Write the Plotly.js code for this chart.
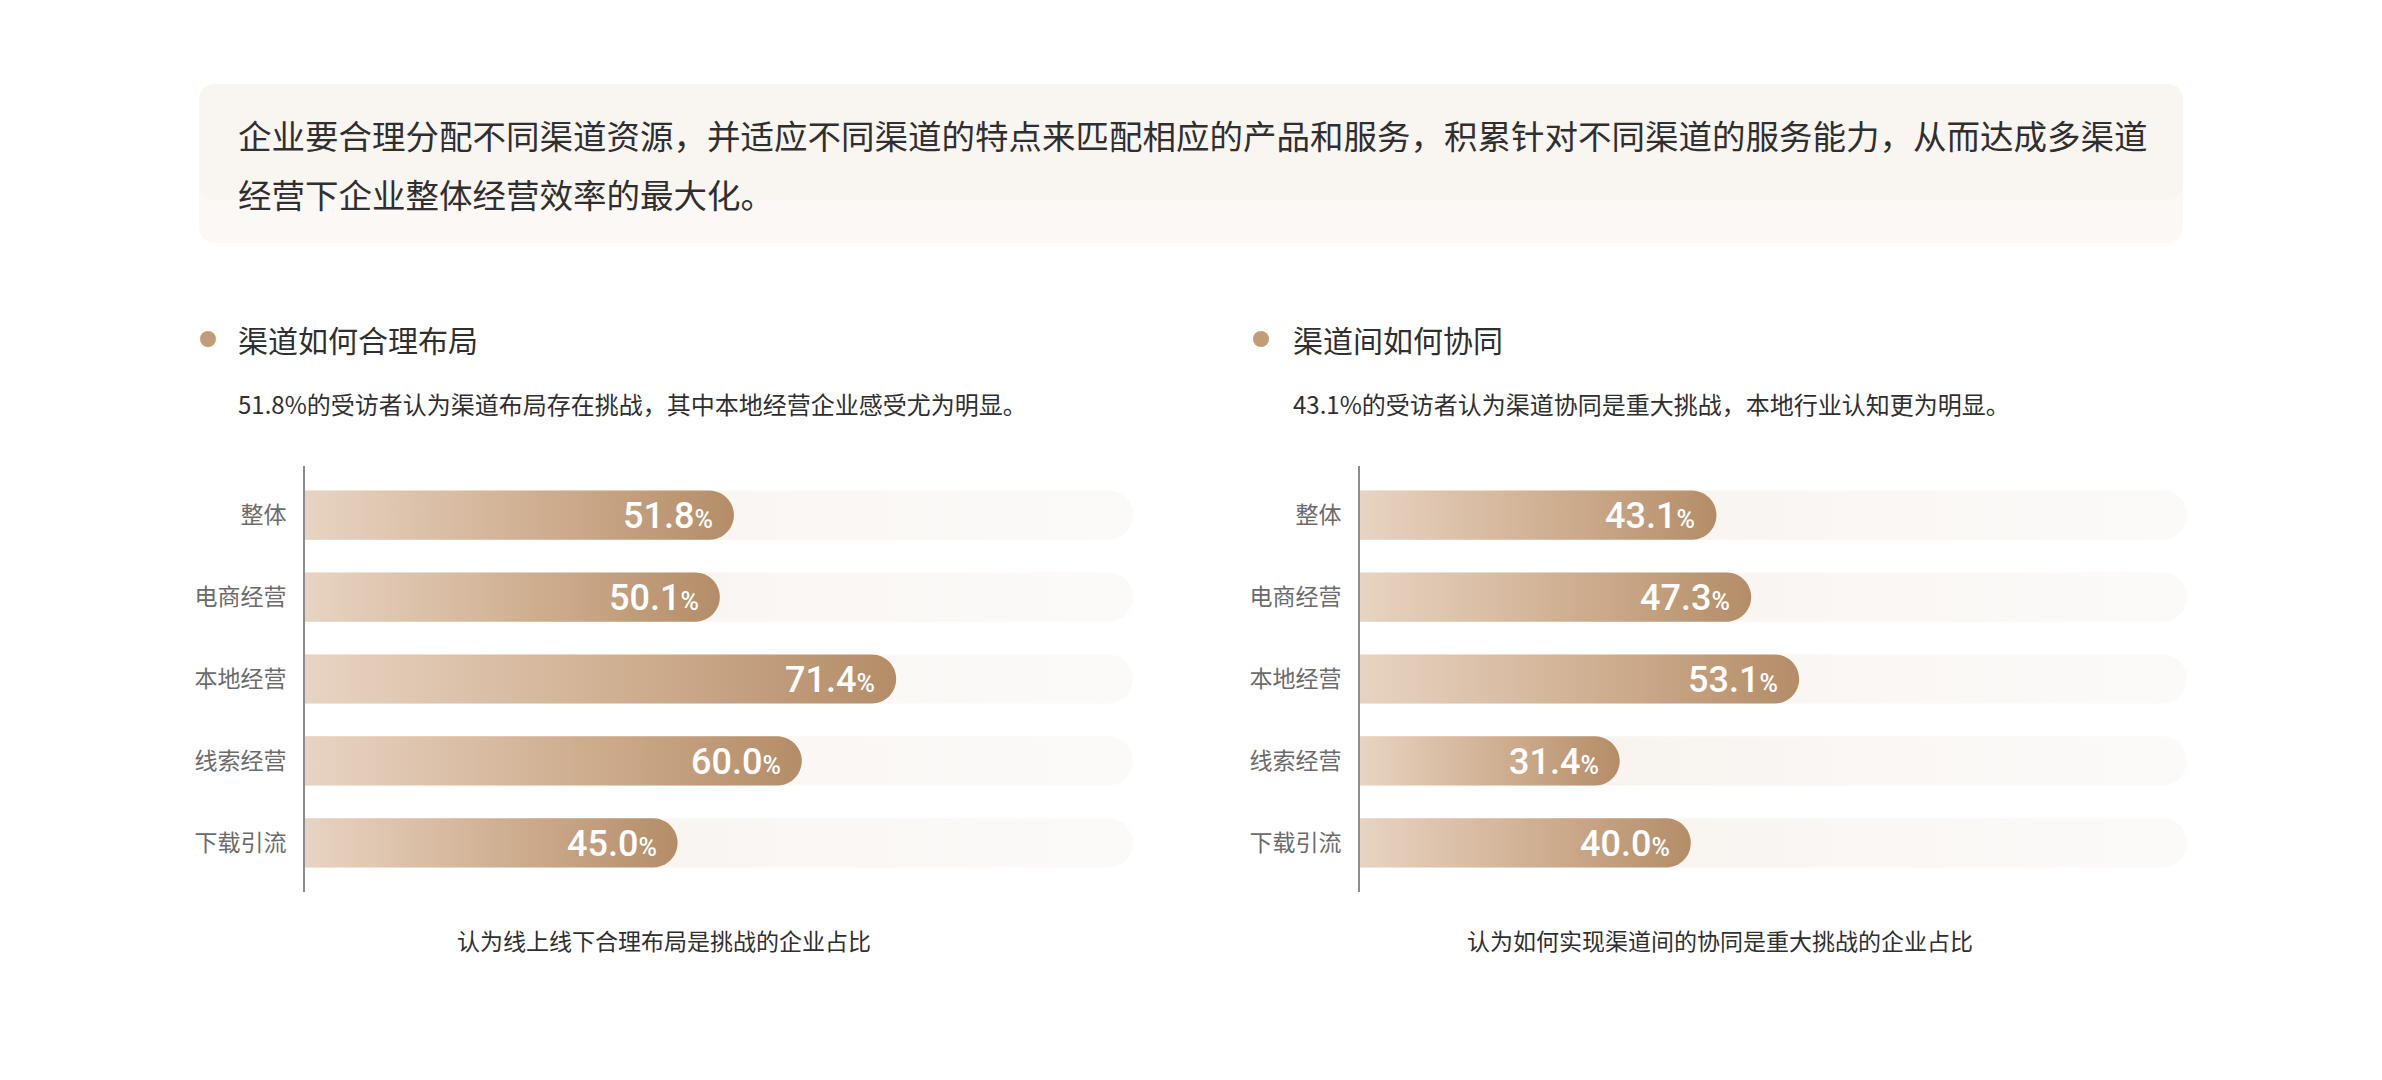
<!DOCTYPE html>
<html>
<head>
<meta charset="utf-8">
<script src="https://cdn.plot.ly/plotly-3.0.1.min.js"></script>
<style>
  html, body { margin: 0; padding: 0; background: #fff; }
  #chart { width: 2382px; height: 1080px; }
</style>
</head>
<body>
<div id="chart"></div>
<script>
// categories (same for both charts)
var categories = ["整体", "电商经营", "本地经营", "线索经营", "下载引流"];

// left chart: 渠道如何合理布局
var layoutValues = [51.8, 50.1, 71.4, 60.0, 45.0];
// right chart: 渠道间如何协同
var synergyValues = [43.1, 47.3, 53.1, 31.4, 40.0];

var W = 2382, H = 1080;
var font = '"Noto Sans CJK SC", "Noto Sans", sans-serif';

// pixel -> paper helpers
var px = function(x) { return x / W; };
var py = function(y) { return 1 - y / H; };

// plot areas in page pixels
var leftBox = { x0: 305, x1: 1133 };
var rightBox = { x0: 1360, x1: 2187 };
var plotTop = 466, plotBottom = 892;
var yRange = [4.6, -0.6];
var halfH = 0.3; // half bar height in category units

/**
 * Build a bar as a closed polygon with a rounded right end,
 * the cap is an ellipse in data units so it looks round on screen
 */
var roundBar = function(v, i, rx) {
	var xs = [0], ys = [i - halfH];
	var cx = v - rx;
	for (var k = 0; k <= 24; k++) {
		var t = -Math.PI / 2 + Math.PI * k / 24;
		xs.push(cx + rx * Math.cos(t));
		ys.push(i + halfH * Math.sin(t));
	}
	xs.push(0);
	ys.push(i + halfH);
	xs.push(0);
	ys.push(i - halfH);
	return { x: xs, y: ys };
}

var makeTraces = function(values, box, xa, ya) {
	var traces = [];
	var pxPerUnit = (box.x1 - box.x0) / 100;
	var pxPerRow = (plotBottom - plotTop) / Math.abs(yRange[0] - yRange[1]);
	var rx = halfH * pxPerRow / pxPerUnit;

	// pale track behind every bar
	for (var i = 0; i < values.length; i++) {
		var bg = roundBar(100, i, rx);
		traces.push({
			x: bg.x, y: bg.y, xaxis: xa, yaxis: ya,
			type: 'scatter', mode: 'none', fill: 'toself',
			fillgradient: {
				type: 'horizontal',
				colorscale: [[0, '#f6f0ea'], [0.6, '#faf7f4'], [1, '#fcfaf9']],
				start: 0, stop: 100
			},
			hoverinfo: 'skip'
		});
	}
	// value bars, gradient from light to dark along the bar
	for (var i = 0; i < values.length; i++) {
		var b = roundBar(values[i], i, rx);
		traces.push({
			x: b.x, y: b.y, xaxis: xa, yaxis: ya,
			type: 'scatter', mode: 'none', fill: 'toself',
			fillgradient: {
				type: 'horizontal',
				colorscale: [[0, '#e8d4c3'], [0.55, '#cfae90'], [1, '#b48d68']],
				start: 0, stop: values[i]
			},
			name: categories[i],
			hovertemplate: categories[i] + ': ' + values[i].toFixed(1) + '%<extra></extra>'
		});
	}
	return traces;
}

var valueLabels = function(values, xr, yr) {
	var out = [];
	for (var i = 0; i < values.length; i++) {
		out.push({
			x: values[i], y: i, xref: xr, yref: yr,
			xanchor: 'right', yanchor: 'middle', xshift: -19, yshift: -1,
			showarrow: false,
			text: values[i].toFixed(1) + '<span style="font-size:25px">%</span>',
			font: { family: 'Roboto, "Noto Sans", sans-serif', size: 36, color: '#ffffff', weight: 500 }
		});
	}
	return out;
}

var text = function(str, x, y, size, anchor, color) {
	return {
		x: px(x), y: py(y), xref: 'paper', yref: 'paper',
		xanchor: anchor || 'left', yanchor: 'middle', showarrow: false,
		text: str,
		font: { family: font, size: size, color: color || '#2f2f2f' }
	};
}

// rounded rectangle path in paper units
var roundRect = function(x0, y0, x1, y1, r) {
	return 'M' + px(x0 + r) + ',' + py(y0) +
		' L' + px(x1 - r) + ',' + py(y0) +
		' Q' + px(x1) + ',' + py(y0) + ' ' + px(x1) + ',' + py(y0 + r) +
		' L' + px(x1) + ',' + py(y1 - r) +
		' Q' + px(x1) + ',' + py(y1) + ' ' + px(x1 - r) + ',' + py(y1) +
		' L' + px(x0 + r) + ',' + py(y1) +
		' Q' + px(x0) + ',' + py(y1) + ' ' + px(x0) + ',' + py(y1 - r) +
		' L' + px(x0) + ',' + py(y0 + r) +
		' Q' + px(x0) + ',' + py(y0) + ' ' + px(x0 + r) + ',' + py(y0) + ' Z';
}

var data = makeTraces(layoutValues, leftBox, 'x', 'y')
	.concat(makeTraces(synergyValues, rightBox, 'x2', 'y2'));

var xBase = {
	range: [0, 100], showgrid: false, zeroline: false,
	showticklabels: false, showline: false, fixedrange: true
};
var yBase = {
	range: yRange, tickmode: 'array',
	tickvals: [0, 1, 2, 3, 4], ticktext: categories,
	showgrid: false, zeroline: false,
	showline: true, linecolor: '#8c8c8c', linewidth: 2,
	ticks: '', ticklabelstandoff: 12,
	tickfont: { family: font, size: 23, color: '#6b6b6b' },
	fixedrange: true
};

var layout = {
	width: W,
	height: H,
	margin: { l: 0, r: 0, t: 0, b: 0, pad: 0 },
	paper_bgcolor: '#ffffff',
	plot_bgcolor: 'rgba(0,0,0,0)',
	showlegend: false,
	xaxis: Object.assign({}, xBase, { domain: [px(leftBox.x0), px(leftBox.x1)], anchor: 'y' }),
	yaxis: Object.assign({}, yBase, { domain: [py(plotBottom), py(plotTop)], anchor: 'x' }),
	xaxis2: Object.assign({}, xBase, { domain: [px(rightBox.x0), px(rightBox.x1)], anchor: 'y2' }),
	yaxis2: Object.assign({}, yBase, { domain: [py(plotBottom), py(plotTop)], anchor: 'x2' }),
	shapes: [
		{
			type: 'path', xref: 'paper', yref: 'paper', layer: 'below',
			path: roundRect(199, 84, 2183, 243, 18),
			fillcolor: '#fbf8f6', line: { width: 0 }
		},
		{
			type: 'path', xref: 'paper', yref: 'paper', layer: 'below',
			path: roundRect(199, 84, 2183, 200, 18),
			fillcolor: '#f9f5f1', line: { width: 0 }
		},
		{
			type: 'circle', xref: 'paper', yref: 'paper',
			x0: px(200), x1: px(216), y0: py(331), y1: py(347),
			fillcolor: '#c19c74', line: { width: 0 }
		},
		{
			type: 'circle', xref: 'paper', yref: 'paper',
			x0: px(1253), x1: px(1269), y0: py(331), y1: py(347),
			fillcolor: '#c19c74', line: { width: 0 }
		}
	],
	annotations: [
		text('企业要合理分配不同渠道资源，并适应不同渠道的特点来匹配相应的产品和服务，积累针对不同渠道的服务能力，从而达成多渠道', 236, 134, 33.5),
		text('经营下企业整体经营效率的最大化。', 236, 194, 33.5),
		text('渠道如何合理布局', 236, 339, 30),
		text('51.8%的受访者认为渠道布局存在挑战，其中本地经营企业感受尤为明显。', 236, 404, 24),
		text('渠道间如何协同', 1291, 339, 30),
		text('43.1%的受访者认为渠道协同是重大挑战，本地行业认知更为明显。', 1291, 404, 24),
		text('认为线上线下合理布局是挑战的企业占比', 664, 940, 23, 'center'),
		text('认为如何实现渠道间的协同是重大挑战的企业占比', 1720, 940, 23, 'center')
	].concat(valueLabels(layoutValues, 'x', 'y'))
	 .concat(valueLabels(synergyValues, 'x2', 'y2'))
};

Plotly.newPlot('chart', data, layout, { displayModeBar: false });
</script>
</body>
</html>
